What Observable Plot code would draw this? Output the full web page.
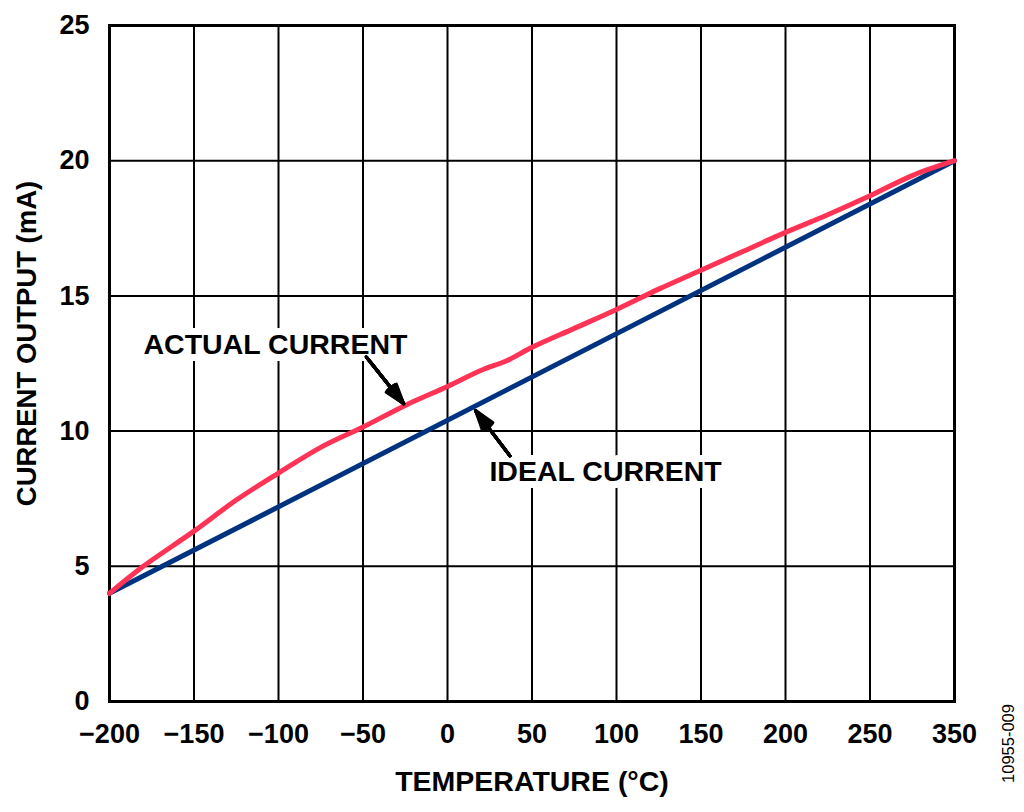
<!DOCTYPE html>
<html>
<head>
<meta charset="utf-8">
<script src="https://cdn.jsdelivr.net/npm/d3@7"></script>
<script src="https://cdn.jsdelivr.net/npm/@observablehq/plot@0.6"></script>
<style>
  html, body { margin: 0; padding: 0; background: #fff; }
  #chart { width: 1024px; height: 812px; }
</style>
</head>
<body>
<div id="chart"></div>
<script>
// Temperature (°C) grid positions and their printed labels (the original prints "350" at the last gridline)
const xTicks = [-200, -150, -100, -50, 0, 50, 100, 150, 200, 250, 300];
const xTickLabels = ["\u2212200", "\u2212150", "\u2212100", "\u221250", "0", "50", "100", "150", "200", "250", "350"];
const yTicks = [0, 5, 10, 15, 20, 25];

// Ideal current (mA)
const idealTemp = [-200, 300];
const idealCurrent = [4, 20];

// Actual current (mA)
const actualTemp = [-200, -180, -150, -125, -100, -75, -50, -25, 0, 20, 35, 50, 75, 100, 125, 150, 175, 200, 225, 250, 275, 300];
const actualCurrent = [4.0, 5.0, 6.3, 7.45, 8.45, 9.4, 10.15, 10.95, 11.65, 12.25, 12.6, 13.1, 13.8, 14.5, 15.25, 15.95, 16.65, 17.35, 18.0, 18.7, 19.45, 20.0];

// Annotations
const noteText = ["ACTUAL CURRENT", "IDEAL CURRENT"];
const noteX = [-101.8, 93.5];
const noteY = [13.2, 8.5];
const arrowX1 = [-45.6, 35.3];
const arrowY1 = [12.55, 9.22];
const arrowX2 = [-25.9, 16.6];
const arrowY2 = [11.01, 10.76];
const headAngles = [36, 31, 26, 21, 16, 11, 6, 1];

const ideal = idealTemp.map((t, i) => ({t, c: idealCurrent[i]}));
const actual = actualTemp.map((t, i) => ({t, c: actualCurrent[i]}));
const notes = noteText.map((s, i) => ({s, x: noteX[i], y: noteY[i]}));
const arrows = arrowX1.map((x1, i) => ({x1, y1: arrowY1[i], x2: arrowX2[i], y2: arrowY2[i]}));
// same arrows, with the start pushed back along the shaft so that the head may be larger
const heads = arrows.map((a) => ({x1: a.x2 - 3 * (a.x2 - a.x1), y1: a.y2 - 3 * (a.y2 - a.y1), x2: a.x2, y2: a.y2}));

const font = "'Liberation Sans', Arial, Helvetica, sans-serif";

const chart = Plot.plot({
  width: 1024,
  height: 812,
  marginLeft: 109,
  marginRight: 70,
  marginTop: 25,
  marginBottom: 111,
  style: {fontFamily: font, fontSize: "27px", fontWeight: "bold", color: "black", background: "white"},
  x: {domain: [-200, 300]},
  y: {domain: [0, 25]},
  marks: [
    Plot.gridX(xTicks, {stroke: "black", strokeOpacity: 1, strokeWidth: 2}),
    Plot.gridY(yTicks, {stroke: "black", strokeOpacity: 1, strokeWidth: 2}),
    Plot.axisX({ticks: xTicks, tickFormat: (d) => xTickLabels[xTicks.indexOf(d)], tickSize: 0, tickPadding: 22, fontSize: 27, fontWeight: "bold", label: null}),
    Plot.axisY({ticks: yTicks, tickSize: 0, tickPadding: 20, fontSize: 27, fontWeight: "bold", label: null}),
    Plot.frame({stroke: "black", strokeWidth: 3}),
    Plot.text(notes, {x: "x", y: "y", text: "s", fontSize: 28.5, fontWeight: "bold", fill: "black", stroke: "white", strokeWidth: 14, paintOrder: "stroke", fontFamily: font}),
    Plot.line(ideal, {x: "t", y: "c", stroke: "#00337f", strokeWidth: 5}),
    Plot.line(actual, {x: "t", y: "c", stroke: "#ff3355", strokeWidth: 5, curve: "catmull-rom"}),
    Plot.arrow(arrows, {x1: "x1", y1: "y1", x2: "x2", y2: "y2", stroke: "black", strokeWidth: 3.5, headLength: 0}),
    ...headAngles.map((a) => Plot.arrow(heads, {x1: "x1", y1: "y1", x2: "x2", y2: "y2", stroke: "black", strokeWidth: 3, headAngle: a, headLength: 10.5, insetStart: 100})),
    Plot.text(["TEMPERATURE (°C)"], {frameAnchor: "bottom", dy: 80, lineAnchor: "middle", textAnchor: "middle", fontSize: 28.5, fontWeight: "bold", fontFamily: font, fill: "black"}),
    Plot.text(["CURRENT OUTPUT (mA)"], {frameAnchor: "left", dx: -82, dy: -20, rotate: -90, lineAnchor: "middle", textAnchor: "middle", fontSize: 27.5, fontWeight: "bold", fontFamily: font, fill: "black"}),
    Plot.text(["10955-009"], {frameAnchor: "bottom-right", dx: 54, dy: 42, rotate: -90, lineAnchor: "middle", textAnchor: "middle", fontSize: 16.5, fontWeight: "normal", fontFamily: font, fill: "black"})
  ]
});
document.getElementById("chart").appendChild(chart);
</script>
</body>
</html>
